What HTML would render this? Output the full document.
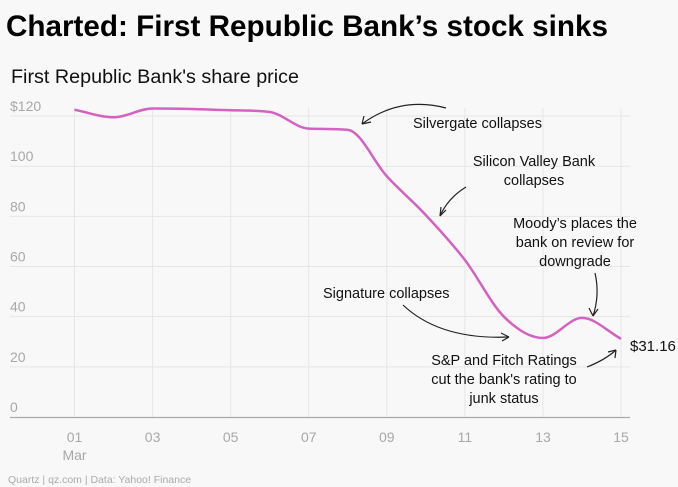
<!DOCTYPE html>
<html><head><meta charset="utf-8"><style>
html,body{margin:0;padding:0;background:#f8f8f8;}
svg{display:block;font-family:"Liberation Sans",sans-serif;}
</style></head><body>
<svg width="678" height="487" viewBox="0 0 678 487">
<rect width="678" height="487" fill="#f8f8f8"/>
<text x="6" y="36" font-size="30" font-weight="bold" fill="#000" textLength="602" lengthAdjust="spacingAndGlyphs">Charted: First Republic Bank’s stock sinks</text>
<text x="11" y="83" font-size="19" fill="#111" textLength="288" lengthAdjust="spacingAndGlyphs">First Republic Bank's share price</text>
<g id="grid"></g>
<g id="yticks"></g>
<g id="xticks"></g>
<path id="line" fill="none" stroke="#d462c1" stroke-width="2.5"/>
<g id="ann" font-size="14.5" fill="#111">
<text x="413" y="128">Silvergate collapses</text>
<text x="534" y="166" text-anchor="middle"><tspan x="534">Silicon Valley Bank</tspan><tspan x="534" dy="19">collapses</tspan></text>
<text x="575" y="228" text-anchor="middle"><tspan x="575">Moody’s places the</tspan><tspan x="575" dy="19">bank on review for</tspan><tspan x="575" dy="19">downgrade</tspan></text>
<text x="323" y="298">Signature collapses</text>
<text x="504" y="365" text-anchor="middle"><tspan x="504">S&amp;P and Fitch Ratings</tspan><tspan x="504" dy="19">cut the bank's rating to</tspan><tspan x="504" dy="19">junk status</tspan></text>
<text x="630" y="351" font-size="15">$31.16</text>
</g>
<g fill="none" stroke="#222" stroke-width="1.2">
<path d="M446 108 Q400 96 362 124"/><path d="M362 124 l9 -2 M362 124 l2 -8"/>
<path d="M466 187 Q448 198 440 216"/><path d="M440 216 l1 -9 M440 216 l6 -6"/>
<path d="M595 273 Q600 295 593 316"/><path d="M593 316 l-4 -8 M593 316 l5 -7"/>
<path d="M403 305 Q440 340 509 337"/><path d="M509 337 l-8 -4 M509 337 l-7 4"/>
<path d="M587 367 Q605 360 616 350"/><path d="M616 350 l-8 2 M616 350 l-1 8"/>
</g>
<text x="8" y="483" font-size="10.5" fill="#aaa">Quartz | qz.com | Data: Yahoo! Finance</text>
</svg>
<script>
const days=[1,2,3,4,5,6,7,8,9,10,11,12,13,14,15];
const prices=[122.5,119.5,123,122.8,122.3,121.6,115,114.5,96,80.5,62.6,40,31.5,39.5,31.16];
const yTicks=[0,20,40,60,80,100,120];
const yTickLabels=["0","20","40","60","80","100","$120"];
const xTicks=[1,3,5,7,9,11,13,15];
const xTickLabels=["01","03","05","07","09","11","13","15"];
const X=v=>74.5+(v-1)*39.04;
const Y=v=>417-v*2.508;
const NS="http://www.w3.org/2000/svg";
function mk(tag,attrs,parent,txt){const e=document.createElementNS(NS,tag);for(const k in attrs)e.setAttribute(k,attrs[k]);if(txt!==undefined)e.textContent=txt;parent.appendChild(e);return e;}
const grid=document.getElementById('grid'),yt=document.getElementById('yticks'),xt=document.getElementById('xticks');
yTicks.forEach((v,i)=>{
  if(v>0){const g=mk('line',{x1:10,x2:630,y1:Y(v),y2:Y(v),stroke:'#e6e6e6','stroke-width':1},grid);
  
  }
  const lb=mk('text',{x:10,y:Y(v)-5,'font-size':14,fill:'#a8a8a8'},yt,yTickLabels[i]);
  
  
});
xTicks.forEach((v,i)=>{
  const g=mk('line',{x1:X(v),x2:X(v),y1:108,y2:417,stroke:'#e6e6e6','stroke-width':1},grid);
  
  
  const lb=mk('text',{x:X(v),y:442,'font-size':14,fill:'#a8a8a8','text-anchor':'middle'},xt,xTickLabels[i]);
  
  
});
const m=mk('text',{x:X(1),y:460,'font-size':14,fill:'#a8a8a8','text-anchor':'middle'},xt,'Mar');


const ax=mk('line',{x1:10,x2:630,y1:417.5,y2:417.5,stroke:'#aaa','stroke-width':1.2},xt);


const px=days.map(X),py=prices.map(Y),n=px.length;
const dx=[],s=[];for(let i=0;i<n-1;i++){dx.push(px[i+1]-px[i]);s.push((py[i+1]-py[i])/dx[i]);}
const tg=[s[0]];for(let i=1;i<n-1;i++){tg.push(s[i-1]*s[i]<=0?0:(s[i-1]+s[i])/2);}tg.push(s[n-2]);
for(let i=0;i<n-1;i++){if(s[i]===0){tg[i]=tg[i+1]=0;continue;}const a=tg[i]/s[i],b=tg[i+1]/s[i],h=a*a+b*b;if(h>9){const k=3/Math.sqrt(h);tg[i]=k*a*s[i];tg[i+1]=k*b*s[i];}}
let pd=`M${px[0]},${py[0]}`;
for(let i=0;i<n-1;i++){const h=dx[i]/3;pd+=` C${px[i]+h},${py[i]+tg[i]*h} ${px[i+1]-h},${py[i+1]-tg[i+1]*h} ${px[i+1]},${py[i+1]}`;}
document.getElementById('line').setAttribute('d',pd);
</script>
</body></html>
